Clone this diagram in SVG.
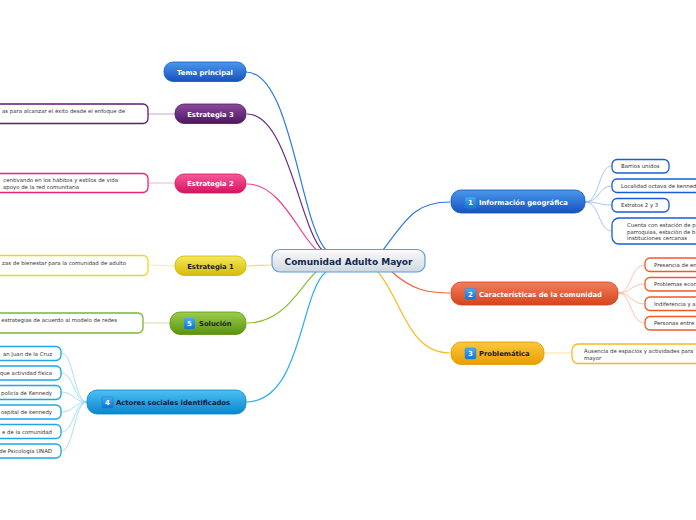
<svg xmlns="http://www.w3.org/2000/svg" width="696" height="520" viewBox="0 0 696 520">
<defs>
<linearGradient id="gCenter" x1="0" y1="0" x2="0" y2="1"><stop offset="0" stop-color="#fbfcfd"/><stop offset="1" stop-color="#cfd7df"/></linearGradient>
<linearGradient id="gBlue" x1="0" y1="0" x2="0" y2="1"><stop offset="0" stop-color="#4a98ec"/><stop offset="1" stop-color="#1552c0"/></linearGradient>
<linearGradient id="gPurple" x1="0" y1="0" x2="0" y2="1"><stop offset="0" stop-color="#8a4a9c"/><stop offset="1" stop-color="#4e165f"/></linearGradient>
<linearGradient id="gPink" x1="0" y1="0" x2="0" y2="1"><stop offset="0" stop-color="#f65a9c"/><stop offset="1" stop-color="#d4145f"/></linearGradient>
<linearGradient id="gYellow" x1="0" y1="0" x2="0" y2="1"><stop offset="0" stop-color="#f6e85a"/><stop offset="1" stop-color="#d4bc08"/></linearGradient>
<linearGradient id="gGreen" x1="0" y1="0" x2="0" y2="1"><stop offset="0" stop-color="#9ccf4a"/><stop offset="1" stop-color="#5a9210"/></linearGradient>
<linearGradient id="gCyan" x1="0" y1="0" x2="0" y2="1"><stop offset="0" stop-color="#4cc0f4"/><stop offset="1" stop-color="#0b86cc"/></linearGradient>
<linearGradient id="gOrange" x1="0" y1="0" x2="0" y2="1"><stop offset="0" stop-color="#f47e5c"/><stop offset="1" stop-color="#d4441c"/></linearGradient>
<linearGradient id="gGold" x1="0" y1="0" x2="0" y2="1"><stop offset="0" stop-color="#fcc83e"/><stop offset="1" stop-color="#e89e00"/></linearGradient>
<linearGradient id="gIcon" x1="0" y1="0" x2="0" y2="1"><stop offset="0" stop-color="#46acf2"/><stop offset="1" stop-color="#1272d2"/></linearGradient>
</defs>
<style>
.main{font-family:"DejaVu Sans",Verdana,sans-serif;font-weight:bold;font-size:6.8px;}
.w{fill:#ffffff;}
.d{fill:#1a1a2a;}
.leaf{font-family:"DejaVu Sans",Verdana,sans-serif;font-size:5.4px;fill:#333333;}
.lbox{fill:#ffffff;stroke-width:1.3;}
.conn path{fill:none;stroke-width:1.2;}
.thin path{fill:none;stroke-width:0.8;}
.icon{font-family:"DejaVu Sans",sans-serif;font-weight:bold;font-size:7px;fill:#ffffff;}
</style>

<g id="connectors" class="conn">
<path d="M246,72 C292,72 300,226 327,251" stroke="#2a7ae0"/>
<path d="M247,114 C288,114 300,230 323,251" stroke="#6a2a82"/>
<path d="M247,184 C282,184 300,238 318,251" stroke="#f23c88"/>
<path d="M247,266 L272,265" stroke="#ece060"/>
<path d="M247,323 C285,323 300,286 316,272" stroke="#8cbf34"/>
<path d="M246,402 C302,402 300,292 326,272" stroke="#2cb0f0"/>
<path d="M383,250 C410,214 418,202 450,202" stroke="#2a78e0"/>
<path d="M392,272 C412,290 428,293 450,293" stroke="#f0603e"/>
<path d="M378,272 C402,300 408,353 450,353" stroke="#f8bf2c"/>
</g>
<g id="leaf-connectors" class="thin">
<path d="M148,114 L175,114" stroke="#b592c2"/>
<path d="M148,183 L175,183" stroke="#f79cc0"/>
<path d="M148,265 L175,266" stroke="#f0e88c"/>
<path d="M143,323 L170,323" stroke="#bcdc8c"/>
<path d="M544,353 L572,353" stroke="#fad888"/>
<path d="M87,402 C74,402 74,353 61,353" stroke="#8fd4f6"/>
<path d="M87,402 C74,402 74,373 61,373" stroke="#8fd4f6"/>
<path d="M87,402 C74,402 74,392 61,392" stroke="#8fd4f6"/>
<path d="M87,402 C74,402 74,412 61,412" stroke="#8fd4f6"/>
<path d="M87,402 C74,402 74,432 61,432" stroke="#8fd4f6"/>
<path d="M87,402 C74,402 74,451 61,451" stroke="#8fd4f6"/>
<path d="M585,202 C600,202 598,166 612,166" stroke="#8fb4ee"/>
<path d="M585,202 C600,202 598,186 612,186" stroke="#8fb4ee"/>
<path d="M585,202 C600,202 598,205 612,205" stroke="#8fb4ee"/>
<path d="M585,202 C600,202 598,231 612,231" stroke="#8fb4ee"/>
<path d="M618,293 C632,293 630,265 645,265" stroke="#f8b49c"/>
<path d="M618,293 C632,293 630,284 645,284" stroke="#f8b49c"/>
<path d="M618,293 C632,293 630,304 645,304" stroke="#f8b49c"/>
<path d="M618,293 C632,293 630,323 645,323" stroke="#f8b49c"/>
</g>

<g id="center">
<rect x="272" y="249.5" width="153" height="22.5" rx="8" fill="url(#gCenter)" stroke="#5c9cdc" stroke-width="1.2"/>
<text x="348.5" y="264.5" text-anchor="middle" font-family="DejaVu Sans,Verdana,sans-serif" font-weight="bold" font-size="9" fill="#14284c">Comunidad Adulto Mayor</text>
</g>

<g id="tema-principal">
<rect x="164" y="62" width="82" height="19.5" rx="9" fill="url(#gBlue)" stroke="#1a58c0" stroke-width="0.8"/>
<text class="main w" x="205" y="74.5" text-anchor="middle">Tema principal</text>
</g>

<g id="estrategia-3">
<rect x="175" y="104" width="71" height="19.5" rx="9" fill="url(#gPurple)" stroke="#4e165f" stroke-width="0.8"/>
<text class="main w" x="210.5" y="116.5" text-anchor="middle">Estrategia 3</text>
</g>
<g id="estrategia-3-leaf">
<rect class="lbox" x="-200" y="104" width="348" height="19.5" rx="5" stroke="#5e1a70"/>
<text class="leaf" x="125" y="113" text-anchor="end">as para alcanzar el éxito desde el enfoque de</text>
</g>

<g id="estrategia-2">
<rect x="175" y="174" width="71" height="19" rx="9" fill="url(#gPink)" stroke="#d4145f" stroke-width="0.8"/>
<text class="main w" x="210.5" y="186.3" text-anchor="middle">Estrategia 2</text>
</g>
<g id="estrategia-2-leaf">
<rect class="lbox" x="-200" y="173.5" width="348" height="19" rx="5" stroke="#f0207a"/>
<text class="leaf" x="118" y="182" text-anchor="end">centivando en los hábitos y estilos de vida</text>
<text class="leaf" x="79" y="189" text-anchor="end">apoyo de la red comunitaria</text>
</g>

<g id="estrategia-1">
<rect x="175" y="256" width="71" height="19.5" rx="9" fill="url(#gYellow)" stroke="#cdb600" stroke-width="0.8"/>
<text class="main d" x="210.5" y="268.5" text-anchor="middle">Estrategia 1</text>
</g>
<g id="estrategia-1-leaf">
<rect class="lbox" x="-200" y="255.5" width="348" height="20" rx="5" stroke="#e6d82c"/>
<text class="leaf" x="126" y="265" text-anchor="end">zas de bienestar para la comunidad de adulto</text>
</g>

<g id="solucion">
<rect x="170" y="312" width="76" height="22.5" rx="10" fill="url(#gGreen)" stroke="#5a9210" stroke-width="0.8"/>
<rect x="184" y="318" width="11" height="11" rx="1.5" fill="url(#gIcon)"/>
<text class="icon" x="189.5" y="326.3" text-anchor="middle">5</text>
<text class="main d" x="199" y="326">Solución</text>
</g>
<g id="solucion-leaf">
<rect class="lbox" x="-200" y="313" width="343" height="20" rx="5" stroke="#7ab82a"/>
<text class="leaf" x="117" y="322" text-anchor="end">estrategias de acuerdo al modelo de redes</text>
</g>

<g id="actores">
<rect x="87" y="390" width="159" height="24" rx="10" fill="url(#gCyan)" stroke="#0b86cc" stroke-width="0.8"/>
<rect x="102" y="397" width="11" height="11" rx="1.5" fill="url(#gIcon)" stroke="#0d78c8" stroke-width="0.5"/>
<text class="icon" x="107.5" y="405.3" text-anchor="middle">4</text>
<text class="main" x="116" y="405" fill="#0e1a3a">Actores sociales identificados</text>
</g>
<g id="actores-leaves">
<rect class="lbox" x="-100" y="346.5" width="161" height="14" rx="5" stroke="#1ea6e6"/>
<text class="leaf" x="52" y="355.5" text-anchor="end">an Juan de la Cruz</text>
<rect class="lbox" x="-100" y="366" width="161" height="14" rx="5" stroke="#1ea6e6"/>
<text class="leaf" x="52" y="375" text-anchor="end">que actividad física</text>
<rect class="lbox" x="-100" y="385.5" width="161" height="14" rx="5" stroke="#1ea6e6"/>
<text class="leaf" x="52" y="394.5" text-anchor="end">policía de Kennedy</text>
<rect class="lbox" x="-100" y="405" width="161" height="14" rx="5" stroke="#1ea6e6"/>
<text class="leaf" x="52" y="414" text-anchor="end">ospital de kennedy</text>
<rect class="lbox" x="-100" y="424.5" width="161" height="14" rx="5" stroke="#1ea6e6"/>
<text class="leaf" x="52" y="433.5" text-anchor="end">e de la comunidad</text>
<rect class="lbox" x="-100" y="444" width="161" height="14" rx="5" stroke="#1ea6e6"/>
<text class="leaf" x="52" y="453" text-anchor="end">de Psicología UNAD</text>
</g>

<g id="info-geografica">
<rect x="451" y="190" width="134" height="23" rx="10" fill="url(#gBlue)" stroke="#1552c0" stroke-width="0.8"/>
<rect x="465" y="197" width="11" height="11" rx="1.5" fill="url(#gIcon)" stroke="#2a8ae0" stroke-width="0.5"/>
<text class="icon" x="470.5" y="205.3" text-anchor="middle">1</text>
<text class="main w" x="479" y="205">Información geográfica</text>
</g>
<g id="info-geografica-leaves">
<rect class="lbox" x="612" y="159.5" width="57" height="13.5" rx="5" stroke="#1a5cd8"/>
<text class="leaf" x="621" y="168.3">Barrios unidos</text>
<rect class="lbox" x="612" y="179" width="120" height="13.5" rx="5" stroke="#1a5cd8"/>
<text class="leaf" x="621" y="187.8">Localidad octava de kenned</text>
<rect class="lbox" x="612" y="198.5" width="57" height="13.5" rx="5" stroke="#1a5cd8"/>
<text class="leaf" x="621" y="207.3">Estratos 2 y 3</text>
<rect class="lbox" x="612" y="218" width="120" height="26" rx="7" stroke="#1a5cd8"/>
<text class="leaf" x="627" y="227">Cuenta con estación de p</text>
<text class="leaf" x="627" y="233.5">parroquias, estación de b</text>
<text class="leaf" x="627" y="240">instituciones cercanas</text>
</g>

<g id="caracteristicas">
<rect x="451" y="282" width="167" height="23" rx="10" fill="url(#gOrange)" stroke="#d0401a" stroke-width="0.8"/>
<rect x="465" y="288.5" width="11" height="11" rx="1.5" fill="url(#gIcon)" stroke="#2a8ae0" stroke-width="0.5"/>
<text class="icon" x="470.5" y="296.8" text-anchor="middle">2</text>
<text class="main w" x="479" y="296.5">Características de la comunidad</text>
</g>
<g id="caracteristicas-leaves">
<rect class="lbox" x="645" y="258" width="80" height="13.5" rx="5" stroke="#f05a28"/>
<text class="leaf" x="654" y="266.8">Presencia de en</text>
<rect class="lbox" x="645" y="277.5" width="80" height="13.5" rx="5" stroke="#f05a28"/>
<text class="leaf" x="654" y="286.3">Problemas econ</text>
<rect class="lbox" x="645" y="297" width="80" height="13.5" rx="5" stroke="#f05a28"/>
<text class="leaf" x="654" y="305.8">Indiferencia y a</text>
<rect class="lbox" x="645" y="316.5" width="80" height="13.5" rx="5" stroke="#f05a28"/>
<text class="leaf" x="654" y="325.3">Personas entre</text>
</g>

<g id="problematica">
<rect x="451" y="342" width="93" height="22.5" rx="10" fill="url(#gGold)" stroke="#e09800" stroke-width="0.8"/>
<rect x="465" y="348" width="11" height="11" rx="1.5" fill="url(#gIcon)" stroke="#2a8ae0" stroke-width="0.5"/>
<text class="icon" x="470.5" y="356.3" text-anchor="middle">3</text>
<text class="main" x="479" y="356" fill="#1a1a1a">Problemática</text>
</g>
<g id="problematica-leaf">
<rect class="lbox" x="572" y="344" width="150" height="19.5" rx="6" stroke="#f8b820"/>
<text class="leaf" x="584" y="353">Ausencia de espacios y actividades para</text>
<text class="leaf" x="584" y="359.5">mayor</text>
</g>
</svg>
